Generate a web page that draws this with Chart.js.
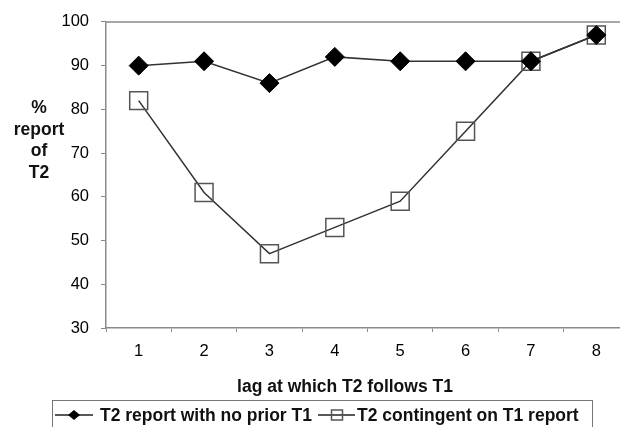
<!DOCTYPE html>
<html lang="en">
<head>
    <meta charset="UTF-8">
    <title>T2 report by lag</title>
    <script src="https://cdn.jsdelivr.net/npm/chart.js"></script>
    <style>
        html, body {
            margin: 0;
            background: #fff;
            overflow: hidden; /* plot area runs a few px past the right edge, like the original crop */
        }
        #wrap {
            position: relative;
            width: 630px;
            height: 427px;
        }
    </style>
</head>
<body>
    <div id="wrap"><canvas id="lagChart"></canvas></div>

    <script>
        // data
        const lags = ['1', '2', '3', '4', '5', '6', '7', '8'];
        const noPriorT1 = [90, 91, 86, 92, 91, 91, 91, 97];
        const contingentT1 = [82, 61, 47, 53, 59, 75, 91, 97];
        const yTicks = [30, 40, 50, 60, 70, 80, 90, 100];
        const seriesNames = ['T2 report with no prior T1', 'T2 contingent on T1 report'];
        const yTitle = ['%', 'report', 'of', 'T2'];
        const xTitle = 'lag at which T2 follows T1';

        const FONT = "'Liberation Sans', Arial, sans-serif";
        const AXIS_GREY = '#8a8a8a';

        // titles, plot border and the line+marker legend drawn by hand
        const extras = {
            id: 'extras',
            afterDraw(chart) {
                const ctx = chart.ctx;
                const a = chart.chartArea;
                ctx.save();

                // top (and clipped right) border of the plot area
                ctx.strokeStyle = AXIS_GREY;
                ctx.lineWidth = 1.5;
                ctx.beginPath();
                ctx.moveTo(a.left, a.top);
                ctx.lineTo(a.right, a.top);
                ctx.lineTo(a.right, a.bottom);
                ctx.stroke();

                ctx.fillStyle = '#111';
                ctx.textAlign = 'center';
                ctx.textBaseline = 'middle';
                ctx.font = 'bold 17.5px ' + FONT;

                // y title, horizontal lines
                yTitle.forEach((t, i) => ctx.fillText(t, 39, 108 + i * 21.7));

                // x title
                ctx.fillText(xTitle, 345, 387);

                // legend box
                ctx.strokeStyle = '#777';
                ctx.lineWidth = 1;
                ctx.strokeRect(52.5, 400.5, 540, 40);

                const ly = 415;
                ctx.strokeStyle = '#222';
                ctx.lineWidth = 1.5;

                // sample 1: line + filled diamond
                ctx.beginPath();
                ctx.moveTo(55, ly);
                ctx.lineTo(93, ly);
                ctx.stroke();
                ctx.fillStyle = '#000';
                ctx.beginPath();
                ctx.moveTo(74, ly - 5);
                ctx.lineTo(80, ly);
                ctx.lineTo(74, ly + 5);
                ctx.lineTo(68, ly);
                ctx.closePath();
                ctx.fill();

                // sample 2: line + open square
                ctx.beginPath();
                ctx.moveTo(318, ly);
                ctx.lineTo(355, ly);
                ctx.stroke();
                ctx.strokeStyle = '#555';
                ctx.strokeRect(331.5, ly - 5, 11, 10);

                ctx.fillStyle = '#111';
                ctx.textAlign = 'left';
                ctx.fillText(chart.data.datasets[0].label, 100, ly + 1);
                ctx.fillText(chart.data.datasets[1].label, 357, ly + 1);

                ctx.restore();
            }
        };

        const ctx = document.getElementById('lagChart').getContext('2d');
        const lagChart = new Chart(ctx, {
            type: 'line',
            data: {
                labels: lags,
                datasets: [{
                    label: seriesNames[0],
                    data: noPriorT1,
                    borderColor: '#333',
                    borderWidth: 1.5,
                    pointStyle: 'rectRot',
                    pointRadius: 9.5,
                    pointBackgroundColor: '#000',
                    pointBorderColor: '#000',
                    pointBorderWidth: 1,
                    tension: 0
                }, {
                    label: seriesNames[1],
                    data: contingentT1,
                    borderColor: '#333',
                    borderWidth: 1.5,
                    pointStyle: 'rect',
                    pointRadius: 12.7,
                    pointBackgroundColor: 'rgba(0,0,0,0)',
                    pointBorderColor: '#555',
                    pointBorderWidth: 1.5,
                    tension: 0
                }]
            },
            options: {
                responsive: true,
                maintainAspectRatio: false,
                animation: false,
                layout: {
                    autoPadding: false, // big markers would otherwise pull the right edge in
                    padding: { top: 15, right: 1, bottom: 0, left: 0 }
                },
                scales: {
                    x: {
                        type: 'category',
                        offset: true,
                        afterFit: s => {
                            s.height = 99;
                            s.paddingLeft = 0;
                            s.paddingRight = 0;
                        },
                        grid: {
                            offset: true,
                            drawOnChartArea: false,
                            drawTicks: true,
                            tickLength: 4,
                            color: AXIS_GREY
                        },
                        border: { display: true, color: AXIS_GREY, width: 1.5 },
                        ticks: {
                            color: '#000',
                            padding: 10,
                            font: { size: 16.5, family: FONT }
                        }
                    },
                    y: {
                        min: 30,
                        max: 100,
                        afterFit: s => { s.width = 106; },
                        afterBuildTicks: s => { s.ticks = yTicks.map(v => ({ value: v })); },
                        grid: {
                            drawOnChartArea: false,
                            drawTicks: true,
                            tickLength: 5,
                            color: AXIS_GREY
                        },
                        border: { display: true, color: AXIS_GREY, width: 1.5 },
                        ticks: {
                            color: '#000',
                            padding: 12,
                            font: { size: 16.5, family: FONT }
                        }
                    }
                },
                plugins: {
                    legend: { display: false },
                    tooltip: { enabled: false }
                }
            },
            plugins: [extras]
        });
    </script>
</body>
</html>
